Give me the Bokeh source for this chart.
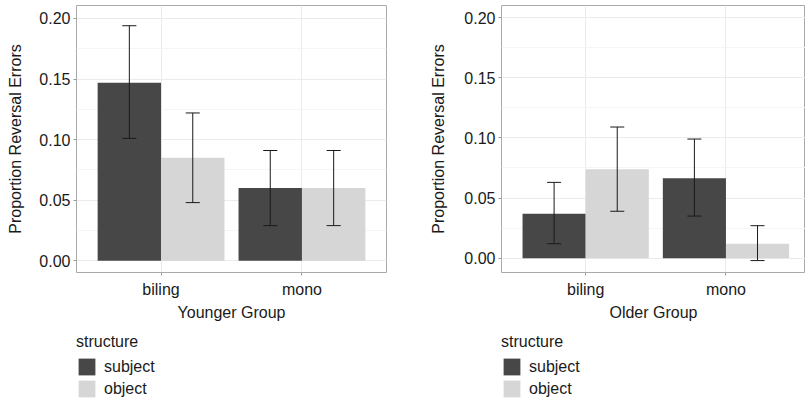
import numpy as np
from bokeh.plotting import figure
from bokeh.layouts import row, column
from bokeh.models import (ColumnDataSource, FixedTicker, Legend, LegendItem,
                          Range1d, NumeralTickFormatter)
from bokeh.embed import file_html
from bokeh.resources import INLINE

# ---- data ----
groups = ["biling", "mono"]
structures = ["subject", "object"]
y_ticks = [0.0, 0.05, 0.10, 0.15, 0.20]
y_minor = [0.025, 0.075, 0.125, 0.175]

young_subject = [0.147, 0.060]
young_object = [0.085, 0.060]
young_subject_lo = [0.101, 0.029]
young_subject_hi = [0.194, 0.091]
young_object_lo = [0.048, 0.029]
young_object_hi = [0.122, 0.091]

old_subject = [0.037, 0.0665]
old_object = [0.074, 0.012]
old_subject_lo = [0.012, 0.035]
old_subject_hi = [0.063, 0.099]
old_object_lo = [0.039, -0.002]
old_object_hi = [0.109, 0.027]

FONT = "Liberation Sans"
DARK = "#474747"
LIGHT = "#D6D6D6"
COLORS = [DARK, LIGHT]
BAR_W = 0.45
CAP_W = 0.1


def make_panel(xlabel, means, los, his, y_start, y_end, x_end,
               min_left, frame_w, min_right, ylab_standoff):
    p = figure(output_backend="svg", toolbar_location=None,
               frame_width=frame_w, frame_height=267,
               min_border_left=min_left, min_border_right=min_right,
               min_border_top=5, min_border_bottom=58,
               x_range=Range1d(0.4, x_end), y_range=Range1d(y_start, y_end))
    base = np.arange(len(groups)) + 1.0
    offsets = [-BAR_W / 2, BAR_W / 2]
    sources = []
    for k, s in enumerate(structures):
        xs = base + offsets[k]
        src = ColumnDataSource(dict(x=xs, top=means[k], lo=los[k], hi=his[k],
                                    x0=xs - CAP_W / 2, x1=xs + CAP_W / 2))
        sources.append(src)
        p.vbar(x="x", top="top", bottom=0, width=BAR_W, source=src,
               fill_color=COLORS[k], line_color=None)
        p.segment(x0="x", x1="x", y0="lo", y1="hi", source=src,
                  line_color="#1a1a1a", line_width=1)
        p.segment(x0="x0", x1="x1", y0="lo", y1="lo", source=src,
                  line_color="#1a1a1a", line_width=1)
        p.segment(x0="x0", x1="x1", y0="hi", y1="hi", source=src,
                  line_color="#1a1a1a", line_width=1)

    # axes
    p.xaxis.ticker = FixedTicker(ticks=list(base))
    p.xaxis.major_label_overrides = {float(b): g for b, g in zip(base, groups)}
    p.yaxis.ticker = FixedTicker(ticks=y_ticks, minor_ticks=y_minor)
    p.yaxis.formatter = NumeralTickFormatter(format="0.00")
    p.xaxis.axis_label = xlabel
    p.yaxis.axis_label = "Proportion Reversal Errors"
    for ax in (p.xaxis[0], p.yaxis[0]):
        ax.axis_line_color = None
        ax.major_tick_out = 3
        ax.major_tick_in = 0
        ax.minor_tick_out = 0
        ax.minor_tick_in = 0
        ax.major_tick_line_color = "#999999"
        ax.major_label_text_font = FONT
        ax.major_label_text_font_size = "16px"
        ax.major_label_text_color = "#1a1a1a"
        ax.axis_label_text_font = FONT
        ax.axis_label_text_font_size = "16px"
        ax.axis_label_text_font_style = "normal"
        ax.axis_label_text_color = "#1a1a1a"
    p.yaxis.major_label_standoff = 3
    p.yaxis.axis_label_standoff = ylab_standoff
    p.xaxis.major_label_standoff = 5
    p.xaxis.axis_label_standoff = 3

    # grid
    p.xgrid.grid_line_color = "#EBEBEB"
    p.ygrid.grid_line_color = "#EBEBEB"
    p.ygrid.minor_grid_line_color = "#F5F5F5"
    p.outline_line_color = "#AAAAAA"
    p.outline_line_width = 1
    p.background_fill_color = "white"
    return p, sources


def make_legend(width, x_off, sources):
    lf = figure(output_backend="svg", toolbar_location=None,
                width=width, height=70, min_border=0,
                x_axis_type=None, y_axis_type=None,
                x_range=Range1d(0, 1), y_range=Range1d(0, 1))
    lf.outline_line_color = None
    lf.xgrid.visible = False
    lf.ygrid.visible = False
    items = []
    for k, s in enumerate(structures):
        r = lf.vbar(x="x", top="top", bottom=0, width=BAR_W, source=sources[k],
                    fill_color=COLORS[k], line_color=None, visible=False)
        items.append(LegendItem(label=s, renderers=[r], index=0))
    leg = Legend(items=items, title="structure", location=(x_off, 1),
                 orientation="vertical")
    leg.title_text_font = FONT
    leg.title_text_font_size = "16px"
    leg.title_text_font_style = "normal"
    leg.title_text_color = "#1a1a1a"
    leg.title_standoff = 5
    leg.label_text_font = FONT
    leg.label_text_font_size = "16px"
    leg.label_text_color = "#1a1a1a"
    leg.glyph_width = 21
    leg.glyph_height = 21
    leg.label_height = 21
    leg.label_standoff = 7
    leg.spacing = 1
    leg.padding = 0
    leg.margin = 0
    leg.border_line_color = None
    leg.background_fill_alpha = 0
    lf.add_layout(leg, "center")
    return lf


p1, s1 = make_panel("Younger Group",
                    [young_subject, young_object],
                    [young_subject_lo, young_object_lo],
                    [young_subject_hi, young_object_hi],
                    -0.0097, 0.2107, 2.6, 76, 310, 34, 12)
p2, s2 = make_panel("Older Group",
                    [old_subject, old_object],
                    [old_subject_lo, old_object_lo],
                    [old_subject_hi, old_object_hi],
                    -0.0119, 0.21, 2.567, 81, 304, 0, 14)
l1 = make_legend(420, 76, s1)
l2 = make_legend(385, 81, s2)

layout = column(row(p1, p2), row(l1, l2))
open("out.html", "w").write(file_html(layout, INLINE))
